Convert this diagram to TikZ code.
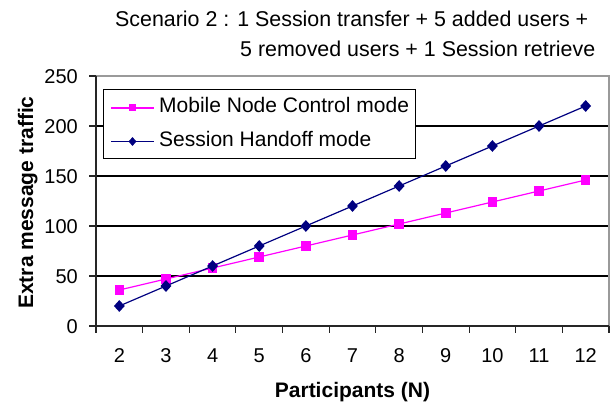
\documentclass[tikz,border=0pt]{standalone}
\usepackage{fontspec}
\setmainfont{Liberation Sans}
\usepackage{tikz}
\usetikzlibrary{shapes,positioning,calc}
\usepackage{xcolor}
\definecolor{mnmagenta}{HTML}{FF00FF}
\definecolor{shnavy}{HTML}{000080}
\definecolor{framegray}{HTML}{9A9A9A}
\newcommand{\chartsize}{\fontsize{21}{25}\selectfont}
\newcommand{\titlesize}{\fontsize{21.4}{25}\selectfont}
\newcommand{\ticksize}{\fontsize{20}{24}\selectfont}

\begin{document}
\begin{tikzpicture}[x=1pt, y=1pt, % {{{
    mnmark/.style={rectangle, fill=mnmagenta, minimum size=9.5pt, inner sep=0pt},
    shmark/.style={diamond, fill=shnavy, minimum width=11pt, minimum height=12pt, inner sep=0pt},
    ticklabel/.style={inner sep=0pt, font=\ticksize},
    chartlabel/.style={inner sep=0pt, font=\chartsize},
  ]
  \useasboundingbox (0,0) rectangle (614,407);
  \pgfmathsetmacro{\catstep}{513/11}
  % Titulo {{{
  \node[chartlabel, font=\titlesize, anchor=base west] (title1) at (115,380) {Scenario 2 : 1 Session transfer + 5 added users +};
  \node[chartlabel, font=\titlesize, anchor=base west] (title2) at (240,350) {5 removed users + 1 Session retrieve};
  % }}}
  \begin{scope}[shift={(96,81)}] % Area del grafico {{{
    \foreach \v in {50,100,150,200} {
      \draw[line width=1.1pt] (0,\v) -- (513,\v);
    }
    \draw[framegray, line width=1.1pt] (0,250) -- (513,250) -- (513,0);
    \draw[line width=1.1pt, black!85] (0,250) -- (0,0) -- (513,0);
    % ticks
    \foreach \v in {0,50,...,250} {
      \draw[line width=1.1pt, black!85] (-7,\v) -- (0,\v);
      \node[ticklabel, anchor=base east] (ylab\v) at (-18,\v-7.5) {\v};
    }
    \foreach \k in {0,...,11} {
      \draw[line width=1.1pt, black!85] (\k*\catstep,0) -- (\k*\catstep,-7);
    }
    \foreach \n in {2,...,12} {
      \node[ticklabel, anchor=base] (xlab\n) at ({(\n-1.5)*\catstep},-37) {\n};
    }
    % datos
    \foreach \n in {2,...,12} {
      \coordinate (mn\n) at ({(\n-1.5)*\catstep},{36+11*(\n-2)});
      \coordinate (sh\n) at ({(\n-1.5)*\catstep},{20*(\n-1)});
    }
    \draw[mnmagenta, line width=1.2pt] (mn2) \foreach \n in {3,...,12} { -- (mn\n) };
    \foreach \n in {2,...,12} { \node[mnmark] (mnpt\n) at (mn\n) {}; }
    \draw[shnavy, line width=1.2pt] (sh2) \foreach \n in {3,...,12} { -- (sh\n) };
    \foreach \n in {2,...,12} { \node[shmark] (shpt\n) at (sh\n) {}; }
  \end{scope} % }}}
  % Ejes {{{
  \node[chartlabel, font=\chartsize\bfseries, anchor=base] (xtitle) at (352.5,9) {Participants (N)};
  \node[chartlabel, font=\chartsize\bfseries, anchor=base, rotate=90] (ytitle) at (33,204.5) {Extra message traffic};
  % }}}
  % Leyenda {{{
  \node[draw, line width=1.2pt, fill=white, anchor=south west, inner sep=0pt,
        minimum width=312pt, minimum height=69pt] (legendbox) at (103,248) {};
  \coordinate (lgmnA) at (111,299);
  \coordinate (lgmnB) at (154,299);
  \coordinate (lgshA) at (111,265.5);
  \coordinate (lgshB) at (154,265.5);
  \draw[mnmagenta, line width=1.2pt] (lgmnA) -- (lgmnB);
  \node[mnmark, minimum size=7pt] (lgmnpt) at ($(lgmnA)!0.5!(lgmnB)$) {};
  \draw[shnavy, line width=1.2pt] (lgshA) -- (lgshB);
  \node[shmark, minimum width=8pt, minimum height=9pt] (lgshpt) at ($(lgshA)!0.5!(lgshB)$) {};
  \node[chartlabel, anchor=base west] (lgmntext) at (159,294) {Mobile Node Control mode};
  \node[chartlabel, anchor=base west] (lgshtext) at (159,260) {Session Handoff mode};
  % }}}
\end{tikzpicture} % }}}
\end{document}
